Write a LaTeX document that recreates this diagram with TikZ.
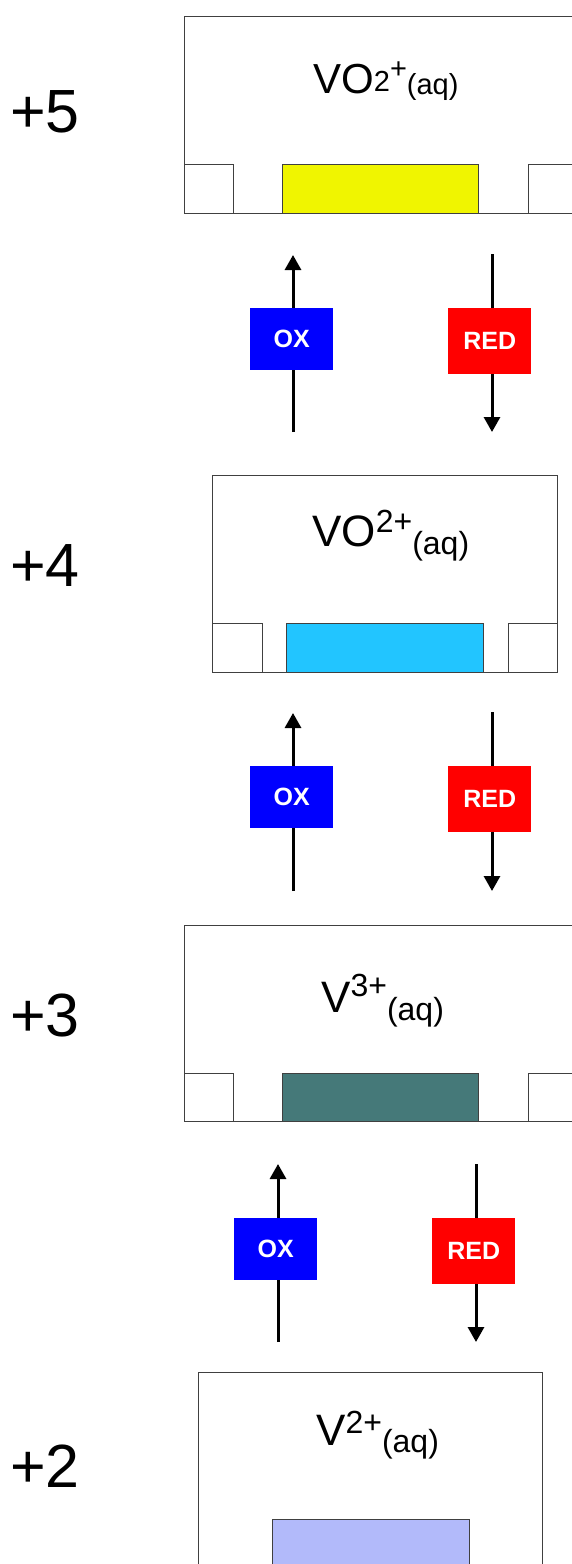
\documentclass[tikz,border=0pt]{standalone}
\usepackage{fontspec}
\setmainfont{Liberation Sans}
\usetikzlibrary{arrows.meta}
\definecolor{vfive}{RGB}{240,245,0}
\definecolor{vfour}{RGB}{34,197,255}
\definecolor{vthree}{RGB}{69,121,121}
\definecolor{vtwo}{RGB}{178,186,250}
\definecolor{oxblue}{RGB}{0,0,255}
\definecolor{redred}{RGB}{255,0,0}
\definecolor{edge}{RGB}{64,64,64}
% \ionpart{size}{raise}{text}
\newcommand{\ionpart}[3]{\raisebox{#2}{\fontsize{#1}{#1}\selectfont #3}}
\begin{document}
\begin{tikzpicture}[x=1pt,y=-1pt,
  vessel/.style={draw=edge, line width=0.9pt, fill=white, anchor=north west, inner sep=0pt, outer sep=0pt},
  solution/.style={draw=edge, line width=0.9pt, anchor=north west, inner sep=0pt, outer sep=0pt},
  redoxarrow/.style={line width=3pt, -{Triangle[width=16pt,length=15pt]}},
  oxbox/.style={fill=oxblue, text=white, font=\fontsize{25}{25}\selectfont\bfseries, minimum width=83pt, minimum height=62pt, inner sep=0pt, anchor=north west},
  redbox/.style={fill=redred, text=white, font=\fontsize{25}{25}\selectfont\bfseries, minimum width=83pt, minimum height=66pt, inner sep=0pt, anchor=north west},
  statelabel/.style={anchor=base west, inner sep=0pt, font=\fontsize{61}{61}\selectfont},
  ionlabel/.style={anchor=base west, inner sep=0pt, font=\fontsize{44}{48}\selectfont}
]
\useasboundingbox (0,0) rectangle (572,1564);
\clip (0,0) rectangle (572,1564);

% oxidation state labels
\node[statelabel] (s5) at (10,132) {+5};
\node[statelabel] (s4) at (10,586) {+4};
\node[statelabel] (s3) at (10,1036) {+3};
\node[statelabel] (s2) at (10,1487) {+2};

% +5 vessel
\node[vessel, minimum width=416pt, minimum height=197pt] (boxA) at (184,16) {};
\node[vessel, minimum width=49pt, minimum height=49pt] (boxAl) at (184,164) {};
\node[solution, fill=vfive, minimum width=196pt, minimum height=49pt] (solA) at (282,164) {};
\node[vessel, minimum width=72pt, minimum height=49pt] (boxAr) at (528,164) {};
\node[ionlabel, font=\fontsize{42}{46}\selectfont] (ionA) at (313,93) {VO\ionpart{29}{2pt}{2}\ionpart{29}{15pt}{+}\ionpart{29}{-1pt}{(aq)}};

% +4 vessel
\node[vessel, minimum width=345pt, minimum height=197pt] (boxB) at (212,475) {};
\node[vessel, minimum width=50pt, minimum height=49pt] (boxBl) at (212,623) {};
\node[solution, fill=vfour, minimum width=197pt, minimum height=49pt] (solB) at (286,623) {};
\node[vessel, minimum width=49pt, minimum height=49pt] (boxBr) at (508,623) {};
\node[ionlabel] (ionB) at (312,546) {VO\ionpart{32}{14pt}{2+}\ionpart{32}{-8pt}{(aq)}};

% +3 vessel
\node[vessel, minimum width=416pt, minimum height=196pt] (boxC) at (184,925) {};
\node[vessel, minimum width=49pt, minimum height=48pt] (boxCl) at (184,1073) {};
\node[solution, fill=vthree, minimum width=196pt, minimum height=48pt] (solC) at (282,1073) {};
\node[vessel, minimum width=72pt, minimum height=48pt] (boxCr) at (528,1073) {};
\node[ionlabel] (ionC) at (321,1012) {V\ionpart{32}{16pt}{3+}\ionpart{32}{-8pt}{(aq)}};

% +2 vessel
\node[vessel, minimum width=344pt, minimum height=240pt] (boxD) at (198,1372) {};
\node[solution, fill=vtwo, minimum width=197pt, minimum height=90pt] (solD) at (272,1519) {};
\node[ionlabel] (ionD) at (316,1445) {V\ionpart{32}{12pt}{2+}\ionpart{32}{-7pt}{(aq)}};

% arrows between +5 and +4
\coordinate (ox1s) at (293,432); \coordinate (ox1e) at (293,255);
\coordinate (rd1s) at (492,254); \coordinate (rd1e) at (492,432);
\draw[redoxarrow] (ox1s) -- (ox1e);
\draw[redoxarrow] (rd1s) -- (rd1e);
\node[oxbox] (ox1) at (250,308) {OX};
\node[redbox] (rd1) at (448,308) {RED};

% arrows between +4 and +3
\coordinate (ox2s) at (293,891); \coordinate (ox2e) at (293,713);
\coordinate (rd2s) at (492,712); \coordinate (rd2e) at (492,891);
\draw[redoxarrow] (ox2s) -- (ox2e);
\draw[redoxarrow] (rd2s) -- (rd2e);
\node[oxbox] (ox2) at (250,766) {OX};
\node[redbox] (rd2) at (448,766) {RED};

% arrows between +3 and +2
\coordinate (ox3s) at (278,1342); \coordinate (ox3e) at (278,1164);
\coordinate (rd3s) at (476,1164); \coordinate (rd3e) at (476,1342);
\draw[redoxarrow] (ox3s) -- (ox3e);
\draw[redoxarrow] (rd3s) -- (rd3e);
\node[oxbox] (ox3) at (234,1218) {OX};
\node[redbox] (rd3) at (432,1218) {RED};
\end{tikzpicture}
\end{document}
